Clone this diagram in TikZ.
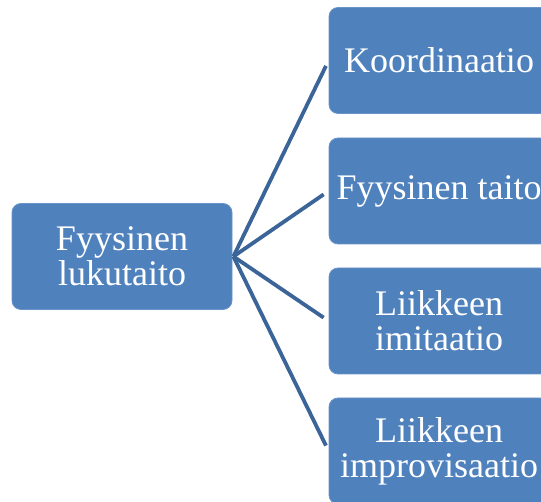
\documentclass[tikz,border=0pt]{standalone}
\usepackage{fontspec}
\setmainfont{Liberation Serif}
\definecolor{boxblue}{HTML}{4F81BD}
\definecolor{boxedge}{HTML}{6A94C8}
\definecolor{linkblue}{HTML}{3B6498}
\begin{document}
\begin{tikzpicture}[x=1pt,y=-1pt,
  bx/.style={draw=boxedge,line width=0.8pt,fill=boxblue,rounded corners=9pt,
    minimum width=220pt,minimum height=106pt,inner sep=0pt,
    text=white,align=center,font=\fontsize{36}{35}\selectfont},
  link/.style={draw=linkblue,line width=3.8pt,shorten >=6pt}]
\useasboundingbox (0,0) rectangle (541,502);
\clip (0,0) rectangle (541,502);
\node[bx] (L) at (122,256.5) {Fyysinen\\lukutaito};
\node[bx] (R1) at (439,60.5) {Koordinaatio};
\node[bx] (R2) at (439,191) {Fyysinen taito};
\node[bx] (R3) at (439,321) {Liikkeen\\imitaatio};
\node[bx] (R4) at (439,451) {Liikkeen\\improvisaatio};
\coordinate (S) at ([xshift=1pt]L.east);
\draw[link] (S) -- (R1.west);
\draw[link] (S) -- (R2.west);
\draw[link] (S) -- (R3.west);
\draw[link] (S) -- (R4.west);
\end{tikzpicture}
\end{document}
